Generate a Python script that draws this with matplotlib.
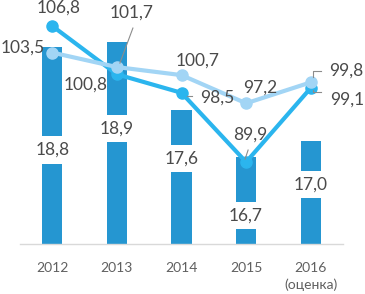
import matplotlib
matplotlib.use("Agg")
import matplotlib.pyplot as plt

categories = ["2012", "2013", "2014", "2015", "2016\n(оценка)"]
bar_values = [18.8, 18.9, 17.6, 16.7, 17.0]
dark_values = [106.8, 100.8, 98.5, 89.9, 99.1]
light_values = [103.5, 101.7, 100.7, 97.2, 99.8]

bar_label_y = [16.84, 17.25, 16.67, 15.58, 16.18]
# label offsets in pixels (dx, dy; dy positive = down)
dark_offsets = [(6, -18), (-31, 10), (36, 5), (4, -27), (36, 12)]
light_offsets = [(-30, -5), (15, -54), (16, -14), (14, -16), (36, -12)]

FONT = ["Lato", "DejaVu Sans"]
plt.rcParams["font.family"] = FONT

BAR_C = "#2596d1"
DARK_C = "#2bb5ee"
LIGHT_C = "#a2d5f5"
TXT_C = "#4a4a4a"

fig = plt.figure(figsize=(3.65, 2.94), dpi=100)
ax = fig.add_axes([20/365, 50/294, 323/365, 234/294])
x = list(range(len(categories)))
ax.bar(x, bar_values, width=0.31, color=BAR_C, zorder=2)
ax.set_xlim(-0.5, 4.5)
ax.set_ylim(15.04, 19.51)
for s in ["top", "left", "right"]:
    ax.spines[s].set_visible(False)
ax.spines["bottom"].set_color("#d9d9d9")
ax.spines["bottom"].set_linewidth(1.0)
ax.set_yticks([])
ax.set_xticks(x)
ax.set_xticklabels(categories, fontsize=10, color="#606060", linespacing=1.45, va="top")
ax.tick_params(axis="x", length=0, pad=13)

for xi, v, ly in zip(x, bar_values, bar_label_y):
    ax.text(xi, ly, f"{v:.1f}".replace(".", ","), ha="center", va="center",
            fontsize=12.5, color=TXT_C, zorder=3,
            bbox=dict(boxstyle="square,pad=0.33", fc="white", ec="none"))

ax2 = ax.twinx()
ax2.set_ylim(79.72, 108.79)
ax2.set_yticks([])
for s in ["top", "left", "right", "bottom"]:
    ax2.spines[s].set_visible(False)
ax2.plot(x, dark_values, color=DARK_C, lw=3, marker="o", ms=8, zorder=3)
ax2.plot(x, light_values, color=LIGHT_C, lw=3, marker="o", ms=8, zorder=4)

k = 0.72
for vals, offs in ((dark_values, dark_offsets), (light_values, light_offsets)):
    for xi, v, (dx, dy) in zip(x, vals, offs):
        ax2.annotate(f"{v:.1f}".replace(".", ","), (xi, v), xytext=(dx*k, -dy*k),
                     textcoords="offset points", ha="center", va="center",
                     fontsize=12.5, color=TXT_C, zorder=5, annotation_clip=False)

# leader lines (in pixel offsets relative to markers)
def leader(xi, v, pts):
    px, py = ax2.transData.transform((xi, v))
    inv = ax2.transData.inverted()
    data = [inv.transform((px + a, py - b)) for a, b in pts]
    ax2.plot([d[0] for d in data], [d[1] for d in data], color="#8c8c8c", lw=0.8, zorder=4.5)

fig.canvas.draw()
leader(1, light_values[1], [(3, -4), (16, -39)])
leader(2, dark_values[2], [(5, 3), (10, 3)])
leader(3, dark_values[3], [(-1, -3), (2, -12)])
leader(4, light_values[4], [(2, -5), (2, -11), (10, -11)])
leader(4, dark_values[4], [(2, 2), (2, 4), (10, 4)])

fig.savefig("out.png", dpi=100)
